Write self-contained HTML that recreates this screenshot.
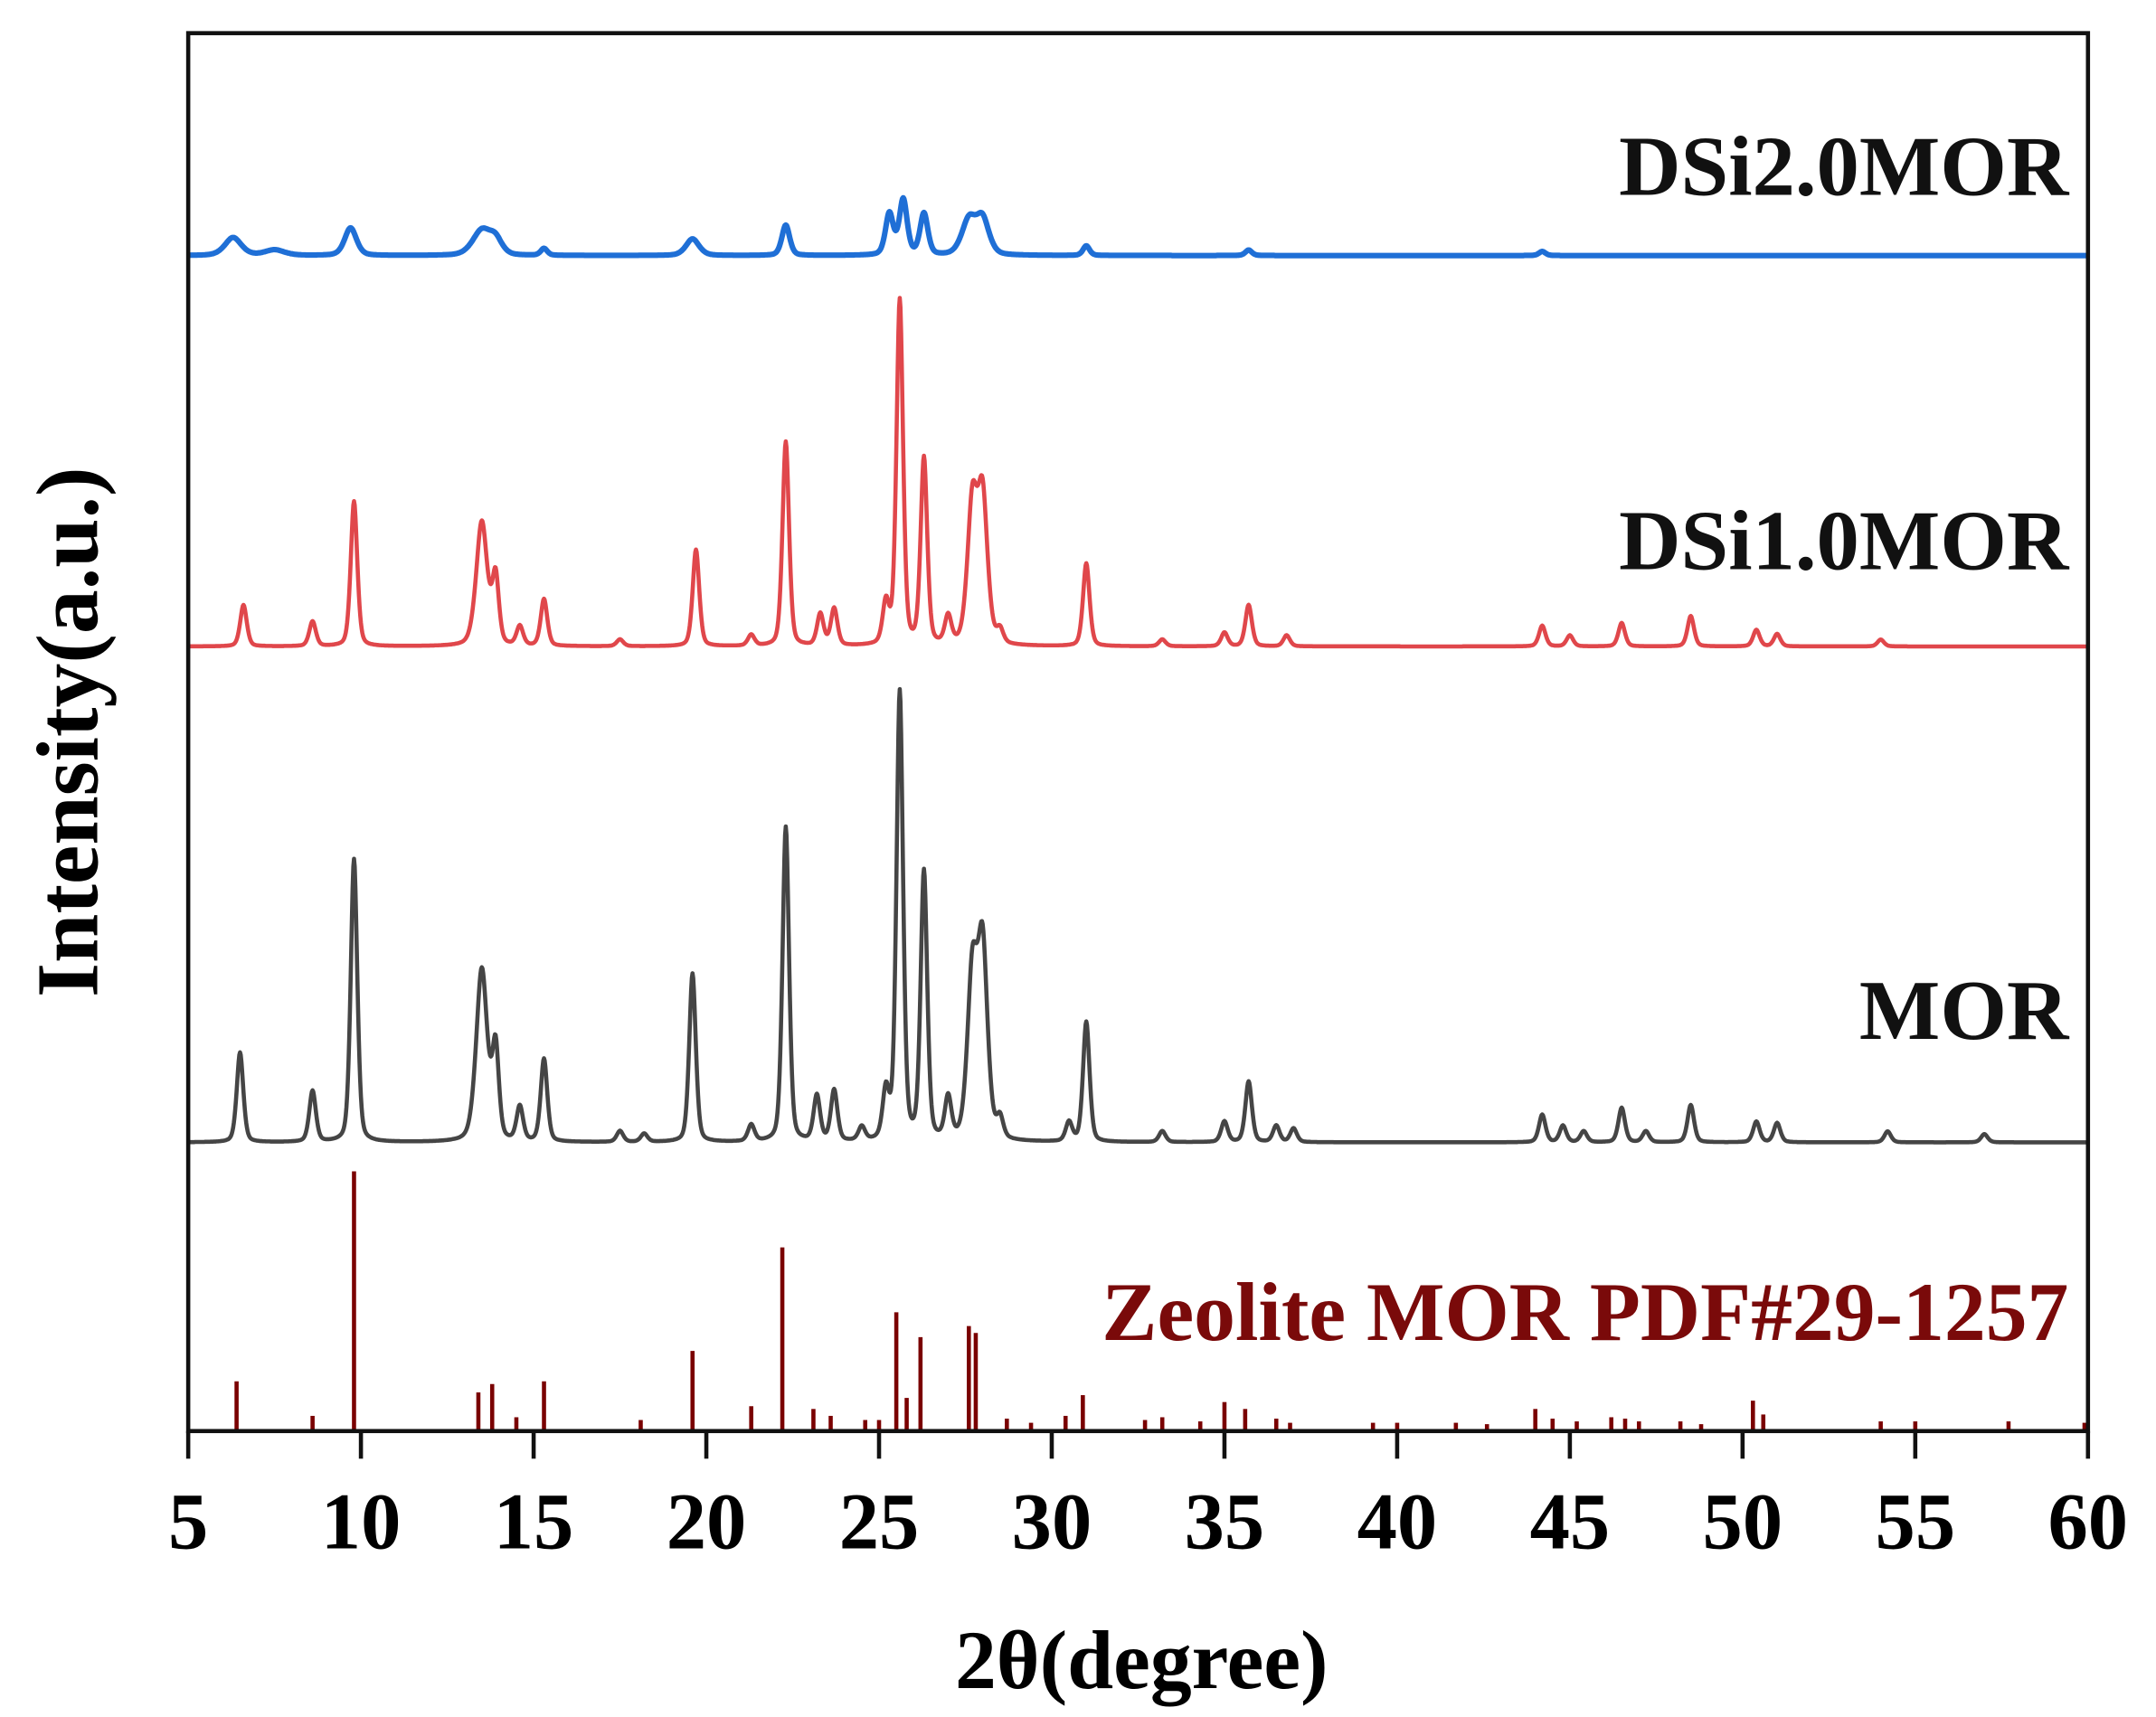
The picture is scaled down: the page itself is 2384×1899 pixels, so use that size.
<!DOCTYPE html>
<html><head><meta charset="utf-8"><style>
html,body{margin:0;padding:0;background:#fff;}
svg{display:block;}
text{font-family:"Liberation Serif",serif;font-weight:bold;}
</style></head><body>
<svg id="chart" width="2384" height="1899" viewBox="0 0 1560 1243" xmlns="http://www.w3.org/2000/svg">
<g id="series"></g>
<rect x="136" y="24" width="1375" height="1012" fill="none" stroke="#111" stroke-width="3"/>
<g id="ticks"></g>
<text x="826" y="1222" font-size="60" text-anchor="middle">2θ(degree)</text>
<text transform="translate(70,530) rotate(-90)" font-size="64" text-anchor="middle">Intensity(a.u.)</text>
<text x="1497" y="141" font-size="62" text-anchor="end" fill="#111">DSi2.0MOR</text>
<text x="1497" y="412" font-size="62" text-anchor="end" fill="#111">DSi1.0MOR</text>
<text x="1497" y="752" font-size="62" text-anchor="end" fill="#111">MOR</text>
<text x="1497" y="970" font-size="60" text-anchor="end" fill="#7a0a0a">Zeolite MOR PDF#29-1257</text>
</svg>
<script>
const xTicks=[5,10,15,20,25,30,35,40,45,50,55,60];
const morPos=[6.5,8.6,9.8,13.5,13.9,14.6,15.3,17.5,18.2,19.6,21.3,22.3,23.2,23.7,24.5,25.2,25.6,26.3,27.0,27.7,28.0,28.5,30.5,31.0,33.2,35.0,35.7,36.5,37.0,44.2,44.8,45.4,46.5,47.2,48.5,50.4,51.0,54.2,57.0];
const morH=[65,37,205,125,65,25,60,8,6,122,12,228,33,37,10,35,325,194,30,118,138,15,14,87,8,15,44,12,10,20,12,8,25,8,27,15,14,8,6];
const redPos=[6.6,8.6,9.8,13.5,13.9,14.6,15.3,17.5,19.7,21.3,22.3,23.3,23.7,25.2,25.6,26.3,27.0,27.7,28.0,28.5,31.0,33.2,35.0,35.7,36.8,44.2,45.0,46.5,48.5,50.4,51.0,54.0];
const redH=[30,18,105,90,48,14,34,5,70,8,148,23,27,30,250,135,20,100,105,10,60,5,10,30,8,15,8,17,22,12,9,5];
const bluePos=[6.3,7.5,9.7,13.5,13.9,15.3,19.6,22.3,25.3,25.7,26.3,27.6,28.0,31.0,35.7,44.2];
const blueH=[13,4,20,18,10,5,12,22,30,40,30,25,25,7,4,3];
const blueW=[0.25,0.3,0.18,0.28,0.2,0.1,0.2,0.12,0.12,0.12,0.12,0.22,0.2,0.1,0.1,0.1];
const stickPos=[6.4,8.6,9.8,13.4,13.8,14.5,15.3,18.1,19.6,21.3,22.2,23.1,23.6,24.6,25.0,25.5,25.8,26.2,27.6,27.8,28.7,29.4,30.4,30.9,32.7,33.2,34.3,35.0,35.6,36.5,36.9,39.3,40.0,41.7,42.6,44.0,44.5,45.2,46.2,46.6,47.0,48.2,48.8,50.3,50.6,54.0,55.0,57.7,59.9];
const stickH=[36,11,188,28,34,10,36,8,58,18,133,16,11,8,8,86,24,68,76,71,9,6,11,26,8,10,7,21,16,9,6,6,6,6,5,16,9,7,10,9,7,7,5,22,12,7,7,7,6];

const X0=136,X1=1511,YB=1036;
function xs(v){return X0+(v-5)/(60-5)*(X1-X0);}
const ns="http://www.w3.org/2000/svg";
const gS=document.getElementById('series'),gT=document.getElementById('ticks');

function curve(pos,h,w,base,color,sw,name){
  let d='';
  for(let x=5;x<=60.0001;x+=0.02){
    let y=0;
    for(let i=0;i<pos.length;i++){
      const wi=w?w[i]:(pos[i]>=13.3&&pos[i]<=13.6?0.17:(pos[i]>27.5&&pos[i]<28.1?0.15:0.1));
      const t=(x-pos[i])/wi;
      y+=h[i]*(0.6*Math.exp(-t*t/2)+0.4/(1+t*t));
    }
    d+=(d?'L':'M')+xs(x).toFixed(1)+','+(base-y).toFixed(1);
  }
  const p=document.createElementNS(ns,'path');
  p.setAttribute('d',d);p.setAttribute('fill','none');p.setAttribute('stroke',color);
  p.setAttribute('stroke-width',sw);p.setAttribute('stroke-linejoin','round');
  
  
  gS.appendChild(p);
}
curve(bluePos,blueH,blueW,185,'#1f6fd6',4,'dsi2-trace');
curve(redPos,redH,null,468,'#e0474b',3,'dsi1-trace');
curve(morPos,morH,null,827,'#454545',3,'mor-trace');

for(let i=0;i<stickPos.length;i++){
  const l=document.createElementNS(ns,'line');
  const x=xs(stickPos[i]);
  l.setAttribute('x1',x);l.setAttribute('x2',x);l.setAttribute('y1',YB);l.setAttribute('y2',YB-stickH[i]);
  l.setAttribute('stroke','#7a0000');l.setAttribute('stroke-width',3);
  
  
  gS.appendChild(l);
}
for(const t of xTicks){
  const x=xs(t);
  const l=document.createElementNS(ns,'line');
  l.setAttribute('x1',x);l.setAttribute('x2',x);l.setAttribute('y1',YB);l.setAttribute('y2',YB+20);
  l.setAttribute('stroke','#111');l.setAttribute('stroke-width',3);
  
  
  gT.appendChild(l);
  const tx=document.createElementNS(ns,'text');
  tx.setAttribute('x',x);tx.setAttribute('y',1121);tx.setAttribute('font-size','58');tx.setAttribute('text-anchor','middle');
  tx.textContent=t;
  
  
  gT.appendChild(tx);
}
</script>
</body></html>
